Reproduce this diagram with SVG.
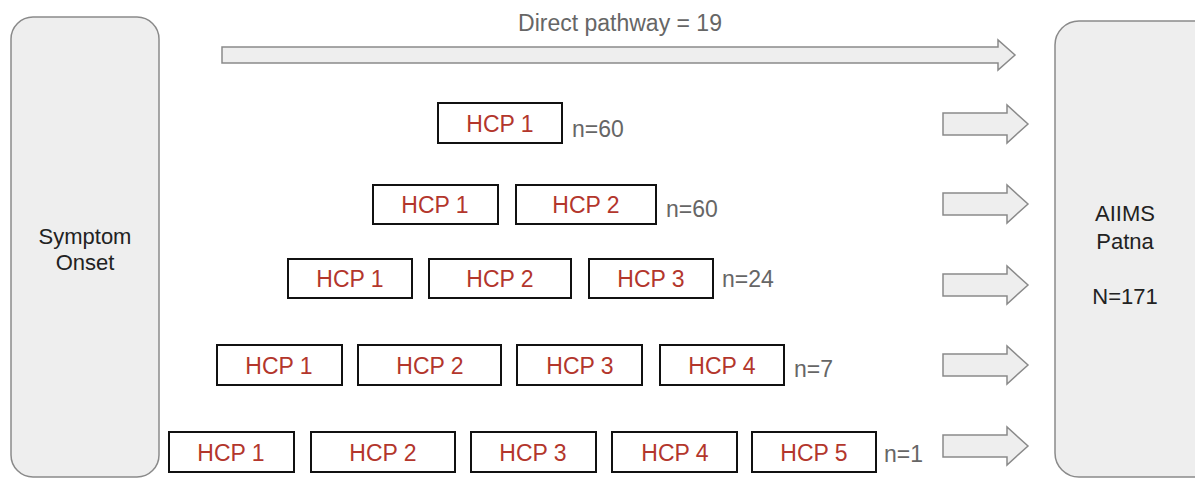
<svg xmlns="http://www.w3.org/2000/svg" width="1195" height="479" viewBox="0 0 1195 479">
<style>
.term{fill:#eeeeee;stroke:#8a8a8a;stroke-width:1.5}
.hcp{fill:#ffffff;stroke:#111111;stroke-width:2}
.ht{font-family:"Liberation Sans",Arial,sans-serif;font-size:23px;fill:#b3362c;text-anchor:middle}
.nt{font-family:"Liberation Sans",Arial,sans-serif;font-size:23px;fill:#666666}
.tt{font-family:"Liberation Sans",Arial,sans-serif;font-size:22px;fill:#222222;text-anchor:middle}
.arr{fill:#eeeeee;stroke:#8a8a8a;stroke-width:1.5}
</style>
<g id="symptom-onset">
<rect class="term" x="11" y="17" width="148" height="460" rx="22"/>
<text class="tt" x="85" y="244">Symptom</text>
<text class="tt" x="85" y="270">Onset</text>
</g>
<g id="aiims-patna">
<rect class="term" x="1055" y="21" width="170" height="456" rx="24"/>
<text class="tt" x="1125" y="221">AIIMS</text>
<text class="tt" x="1125" y="249">Patna</text>
<text class="tt" x="1125" y="304">N=171</text>
</g>
<g id="connectors">
<path class="arr" d="M222,47 H998 V40 L1015,55 L998,70 V63 H222 Z"/>
<text class="nt" x="620" y="31" text-anchor="middle" font-size="25">Direct pathway = 19</text>
<path class="arr" d="M943,113 H1007 V105 L1028,124 L1007,143 V135 H943 Z"/>
<path class="arr" d="M943,193 H1007 V185 L1028,204 L1007,223 V215 H943 Z"/>
<path class="arr" d="M943,274 H1007 V266 L1028,285 L1007,304 V296 H943 Z"/>
<path class="arr" d="M943,354 H1007 V346 L1028,365 L1007,384 V376 H943 Z"/>
<path class="arr" d="M943,435 H1007 V427 L1028,446 L1007,465 V457 H943 Z"/>
</g>
<g id="row1">
<rect class="hcp" x="438" y="103" width="124" height="40"/>
<text class="ht" x="500" y="132">HCP 1</text>
<text class="nt" x="572" y="137">n=60</text>
</g>
<g id="row2">
<rect class="hcp" x="373" y="185" width="125" height="39"/>
<text class="ht" x="435" y="213">HCP 1</text>
<rect class="hcp" x="516" y="185" width="140" height="39"/>
<text class="ht" x="586" y="213">HCP 2</text>
<text class="nt" x="666" y="217">n=60</text>
</g>
<g id="row3">
<rect class="hcp" x="288" y="259" width="124" height="39"/>
<text class="ht" x="350" y="287">HCP 1</text>
<rect class="hcp" x="429" y="259" width="142" height="39"/>
<text class="ht" x="500" y="287">HCP 2</text>
<rect class="hcp" x="589" y="259" width="124" height="39"/>
<text class="ht" x="651" y="287">HCP 3</text>
<text class="nt" x="722" y="287">n=24</text>
</g>
<g id="row4">
<rect class="hcp" x="217" y="345" width="125" height="40"/>
<text class="ht" x="279" y="374">HCP 1</text>
<rect class="hcp" x="358" y="345" width="143" height="40"/>
<text class="ht" x="430" y="374">HCP 2</text>
<rect class="hcp" x="517" y="345" width="125" height="40"/>
<text class="ht" x="580" y="374">HCP 3</text>
<rect class="hcp" x="660" y="345" width="124" height="40"/>
<text class="ht" x="722" y="374">HCP 4</text>
<text class="nt" x="794" y="377">n=7</text>
</g>
<g id="row5">
<rect class="hcp" x="169" y="432" width="125" height="40"/>
<text class="ht" x="231" y="461">HCP 1</text>
<rect class="hcp" x="311" y="432" width="144" height="40"/>
<text class="ht" x="383" y="461">HCP 2</text>
<rect class="hcp" x="471" y="432" width="125" height="40"/>
<text class="ht" x="533" y="461">HCP 3</text>
<rect class="hcp" x="612" y="432" width="125" height="40"/>
<text class="ht" x="675" y="461">HCP 4</text>
<rect class="hcp" x="752" y="432" width="124" height="40"/>
<text class="ht" x="814" y="461">HCP 5</text>
<text class="nt" x="884" y="462">n=1</text>
</g>
</svg>
